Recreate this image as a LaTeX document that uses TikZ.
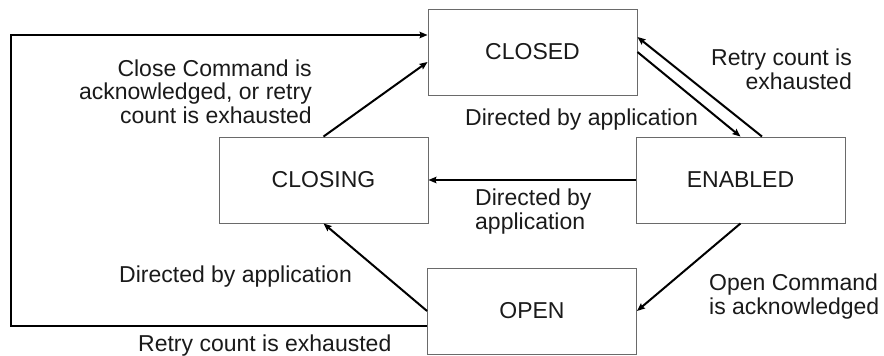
\documentclass[tikz,border=0pt]{standalone}
\usepackage{fontspec}
\setmainfont{Liberation Sans}
\usetikzlibrary{arrows.meta,calc}

\definecolor{ink}{HTML}{1A1A1A}
\definecolor{boxline}{HTML}{6A6A6A}

\tikzset{
  state/.style={draw=boxline, line width=0.9pt, fill=white,
    minimum width=209pt, minimum height=86pt, inner sep=0pt,
    font=\fontsize{23}{23.5}\selectfont, text=ink},
  flow/.style={draw=black, line width=2pt,
    -{Stealth[length=8pt,width=6.5pt,inset=1.2pt]}},
  loopflow/.style={flow, line width=2.6pt},
  lbl/.style={inner sep=0pt, text=ink,
    font=\fontsize{23}{23.5}\selectfont},
}

\begin{document}
\begin{tikzpicture}[x=1pt,y=-1pt]
\useasboundingbox (0,0) rectangle (884,356);

% states
\node[state] (closed)  at (532.5,52)  {CLOSED};
\node[state] (closing) at (323.5,180) {CLOSING};
\node[state] (enabled) at (740.5,180) {ENABLED};
\node[state] (open)    at (532,311)   {OPEN};

% corners of the outer retry loop
\coordinate (loopbl) at (11,326);
\coordinate (looptl) at (11,35);

% transitions
\draw[flow] (closing.north) -- ($(closed.west)+(0,10)$);
\draw[flow] (closed.east) -- (enabled.north);
\draw[flow] ($(enabled.north)+(21.5,0)$) -- ($(closed.east)+(0,-15)$);
\draw[flow] (enabled.west) -- (closing.east);
\draw[flow] (enabled.south) -- (open.east);
\draw[flow] (open.west) -- (closing.south);
\draw[loopflow] ($(open.west)+(0,15)$) -- (loopbl) -- (looptl)
  -- ($(closed.west)+(0,-17)$);

% transition labels (base anchor sits on the last line)
\node[lbl, align=right, anchor=base east] (lclose) at (312,123)
  {Close Command is\\acknowledged, or retry\\count is exhausted};
\node[lbl, align=right, anchor=base east] (lretry) at (852,89)
  {Retry count is\\exhausted};
\node[lbl, anchor=base west] (ldir1) at (465,125) {Directed by application};
\node[lbl, align=left, anchor=base west] (ldir2) at (475,229)
  {Directed by\\application};
\node[lbl, anchor=base west] (ldir3) at (119,282) {Directed by application};
\node[lbl, align=left, anchor=base west] (lopen) at (709,314)
  {Open Command\\is acknowledged};
\node[lbl, anchor=base west] (lexh) at (138,351) {Retry count is exhausted};
\end{tikzpicture}
\end{document}
